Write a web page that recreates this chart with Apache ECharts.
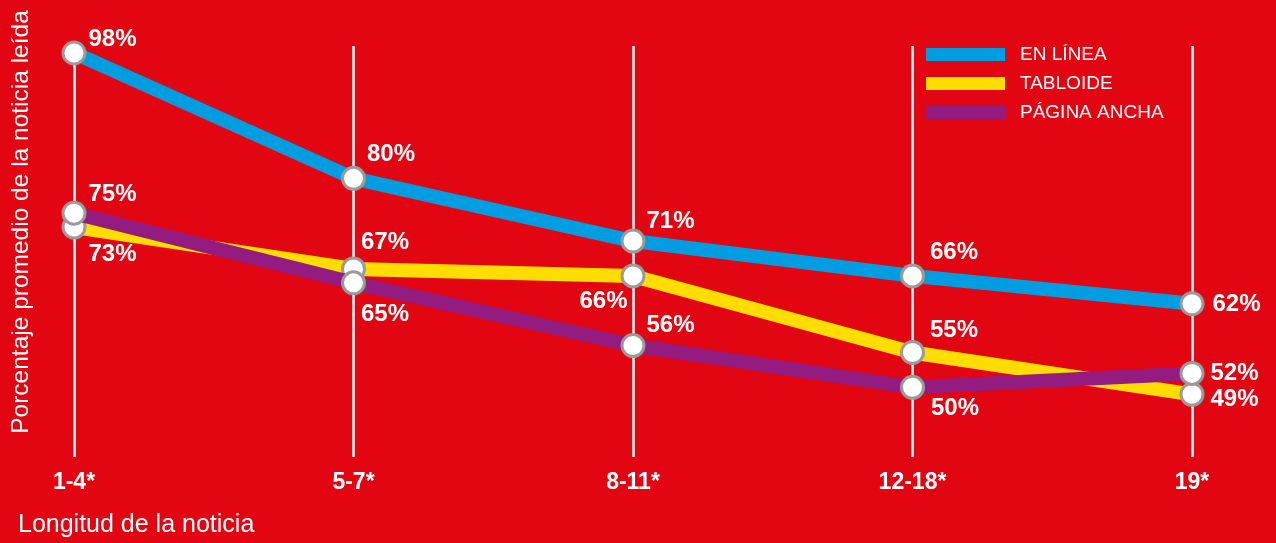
<!DOCTYPE html>
<html>
<head>
<meta charset="utf-8">
<script src="https://cdn.jsdelivr.net/npm/echarts@6/dist/echarts.min.js"></script>
<style>
html,body{margin:0;padding:0;background:#E20613;}
#chart{width:1276px;height:543px;}
</style>
</head>
<body>
<div id="chart"></div>
<script>
// ---- data ----
var categories = ['1-4*', '5-7*', '8-11*', '12-18*', '19*'];
var seriesNames = ['EN LÍNEA', 'TABLOIDE', 'PÁGINA ANCHA'];
var enLinea = [98, 80, 71, 66, 62];
var tabloide = [73, 67, 66, 55, 49];
var paginaAncha = [75, 65, 56, 50, 52];
var yTitle = 'Porcentaje promedio de la noticia leída';
var xTitle = 'Longitud de la noticia';

// ---- styling (label placement per point) ----
var colors = ['#009EE0', '#FFDD00', '#941C80'];
// [position, offsetX, offsetY]
var labelPlace = [
  [['right', -3, -14], ['right', -4, -24], ['right', -4, -20], ['right', 0, -24], ['right', 3, 1]],
  [['right', -3, 27], ['right', -10, -27], ['left', 12, 25], ['right', 0, -22], ['right', 1, 5]],
  [['right', -3, -19], ['right', -10, 32], ['right', -4, -20], ['right', 1, 21], ['right', 1, 0]]
];

var allData = [enLinea, tabloide, paginaAncha];
var FONT = '"Liberation Sans", Arial, Helvetica, sans-serif';

function buildSeries(idx) {
  return {
    name: seriesNames[idx],
    type: 'line',
    z: 2 + idx,
    data: allData[idx].map(function (v, i) {
      var p = labelPlace[idx][i];
      return {
        value: v,
        label: { position: p[0], offset: [p[1], p[2]] }
      };
    }),
    symbol: 'circle',
    symbolSize: 22,
    lineStyle: { color: colors[idx], width: 14, cap: 'butt', join: 'round' },
    itemStyle: { color: '#ffffff', borderColor: '#9a9a9a', borderWidth: 3 },
    label: {
      show: true,
      formatter: '{c}%',
      color: '#ffffff',
      fontFamily: FONT,
      fontWeight: 'bold',
      fontSize: 24,
      distance: 5
    },
    emphasis: { disabled: true },
    animation: false
  };
}

var chart = echarts.init(document.getElementById('chart'), null, { renderer: 'canvas' });
chart.setOption({
  backgroundColor: '#E20613',
  animation: false,
  grid: { left: 74, right: 84, top: 46, bottom: 86, containLabel: false },
  xAxis: {
    type: 'category',
    data: categories,
    boundaryGap: false,
    axisLine: { show: false },
    axisTick: { show: false },
    axisLabel: {
      color: '#ffffff',
      fontFamily: FONT,
      fontWeight: 'bold',
      fontSize: 23,
      margin: 14
    },
    splitLine: { show: true, lineStyle: { color: '#ffffff', width: 2.5 } }
  },
  yAxis: {
    type: 'value',
    min: 40,
    max: 99,
    axisLine: { show: false },
    axisTick: { show: false },
    axisLabel: { show: false },
    splitLine: { show: false }
  },
  legend: {
    orient: 'vertical',
    left: 926,
    top: 45,
    padding: 0,
    itemWidth: 79,
    itemHeight: 13,
    itemGap: 10,
    icon: 'rect',
    selectedMode: false,
    textStyle: {
      color: '#ffffff',
      fontFamily: FONT,
      fontSize: 19,
      padding: [0, 0, 0, 10]
    },
    data: seriesNames.map(function (n, i) {
      return { name: n, itemStyle: { color: colors[i], borderWidth: 0 } };
    })
  },
  graphic: [
    {
      type: 'text',
      x: 21,
      y: 222,
      rotation: Math.PI / 2,
      style: {
        text: yTitle,
        fill: '#ffffff',
        font: '24.5px ' + FONT,
        textAlign: 'center',
        textVerticalAlign: 'middle'
      }
    },
    {
      type: 'text',
      left: 18,
      top: 513,
      style: {
        text: xTitle,
        fill: '#ffffff',
        font: '25px ' + FONT
      }
    }
  ],
  series: [buildSeries(0), buildSeries(1), buildSeries(2)]
});
</script>
</body>
</html>
